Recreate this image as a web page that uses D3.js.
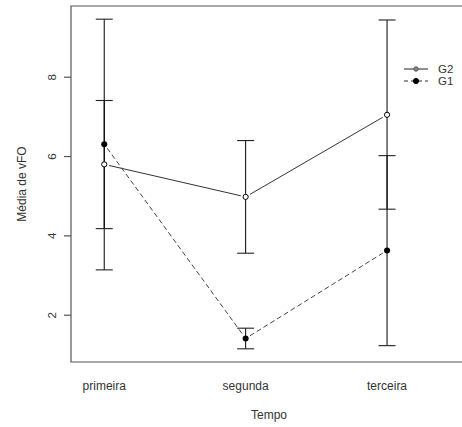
<!DOCTYPE html>
<html>
<head>
<meta charset="utf-8">
<script src="https://cdn.jsdelivr.net/npm/d3@7"></script>
<style>
  html, body { margin: 0; padding: 0; background: #fff; }
  svg { display: block; }
  text { font-family: "Liberation Sans", Arial, sans-serif; fill: #333; }
</style>
</head>
<body>
<svg id="chart" width="462" height="427"></svg>
<script>
// Mean vFO by time point for two groups, with error bars
const categories = ["primeira", "segunda", "terceira"];
const g2Mean  = [5.79, 4.97, 7.04];
const g2Lower = [4.17, 3.55, 4.66];
const g2Upper = [7.40, 6.39, 9.43];
const g1Mean  = [6.30, 1.40, 3.62];
const g1Lower = [3.13, 1.14, 1.22];
const g1Upper = [9.45, 1.66, 6.01];
const yTicks  = [2, 4, 6, 8];

const svg = d3.select("#chart");
const box = { left: 71, right: 462, top: 6, bottom: 362 };

const x = d3.scaleLinear().domain([0.765, 3.53]).range([box.left, box.right]);
const y = d3.scaleLinear().domain([2, 8]).range([314.7, 76.7]);

// plot frame
svg.append("path")
  .attr("d", `M${box.right},${box.top}H${box.left}V${box.bottom}H${box.right}`)
  .attr("fill", "none").attr("stroke", "#555").attr("stroke-width", 1.2);

// y axis ticks and rotated labels
const yAxis = d3.axisLeft(y).tickValues(yTicks).tickSize(7).tickFormat(d3.format("d"));
const ya = svg.append("g").attr("transform", `translate(${box.left},0)`).call(yAxis);
ya.select(".domain").remove();
ya.selectAll("line").attr("stroke", "#555").attr("stroke-width", 1.2);
ya.selectAll("text")
  .attr("font-size", 11.5).attr("fill", "#333")
  .attr("x", 0).attr("y", 0).attr("dy", "0.35em")
  .attr("text-anchor", "middle")
  .attr("transform", "translate(-19,0) rotate(-90)");

// category labels
svg.append("g").selectAll("text").data(categories).join("text")
  .attr("x", (d, i) => x(i + 1)).attr("y", 390)
  .attr("text-anchor", "middle").attr("font-size", 12).text(d => d);

// axis titles
svg.append("text").attr("x", 269).attr("y", 419)
  .attr("text-anchor", "middle").attr("font-size", 12).text("Tempo");
svg.append("text")
  .attr("transform", `translate(26,${(box.top + box.bottom) / 2}) rotate(-90)`)
  .attr("text-anchor", "middle").attr("font-size", 12).text("Média de vFO");

// error bars
function errorBars(lower, upper) {
  const g = svg.append("g");
  lower.forEach((lo, i) => {
    const cx = x(i + 1), hi = upper[i];
    g.append("line").attr("x1", cx).attr("x2", cx).attr("y1", y(lo)).attr("y2", y(hi))
      .attr("stroke", "#000").attr("stroke-width", 1);
    [lo, hi].forEach(v => g.append("line")
      .attr("x1", cx - 8.5).attr("x2", cx + 8.5).attr("y1", y(v)).attr("y2", y(v))
      .attr("stroke", "#222").attr("stroke-width", 1.1));
  });
}
errorBars(g1Lower, g1Upper);
errorBars(g2Lower, g2Upper);

// connecting lines with gaps around the points
function gappedLines(values, dash, color) {
  const gap = 5;
  const g = svg.append("g");
  for (let i = 0; i < values.length - 1; i++) {
    const x1 = x(i + 1), y1 = y(values[i]), x2 = x(i + 2), y2 = y(values[i + 1]);
    const len = Math.hypot(x2 - x1, y2 - y1), ux = (x2 - x1) / len, uy = (y2 - y1) / len;
    g.append("line")
      .attr("x1", x1 + ux * gap).attr("y1", y1 + uy * gap)
      .attr("x2", x2 - ux * gap).attr("y2", y2 - uy * gap)
      .attr("stroke", color).attr("stroke-width", 1)
      .attr("stroke-dasharray", dash);
  }
}
gappedLines(g2Mean, null, "#333");
gappedLines(g1Mean, "5,3", "#444");

// points
svg.append("g").selectAll("circle").data(g2Mean).join("circle")
  .attr("cx", (d, i) => x(i + 1)).attr("cy", d => y(d)).attr("r", 2.6)
  .attr("fill", "#fff").attr("stroke", "#000").attr("stroke-width", 1);
svg.append("g").selectAll("circle").data(g1Mean).join("circle")
  .attr("cx", (d, i) => x(i + 1)).attr("cy", d => y(d)).attr("r", 3)
  .attr("fill", "#000");

// legend
const legend = [
  { name: "G2", dash: null, fill: "#888", stroke: "#555", r: 2.2, yy: 69 },
  { name: "G1", dash: "4,3", fill: "#000", stroke: "#000", r: 2.6, yy: 81 }
];
const lg = svg.append("g");
legend.forEach(l => {
  lg.append("line").attr("x1", 404).attr("x2", 428).attr("y1", l.yy).attr("y2", l.yy)
    .attr("stroke", "#333").attr("stroke-width", 1.1).attr("stroke-dasharray", l.dash);
  lg.append("circle").attr("cx", 416).attr("cy", l.yy).attr("r", l.r)
    .attr("fill", l.fill).attr("stroke", l.stroke);
  lg.append("text").attr("x", 438).attr("y", l.yy).attr("dy", "0.35em")
    .attr("font-size", 11.5).text(l.name);
});
</script>
</body>
</html>
